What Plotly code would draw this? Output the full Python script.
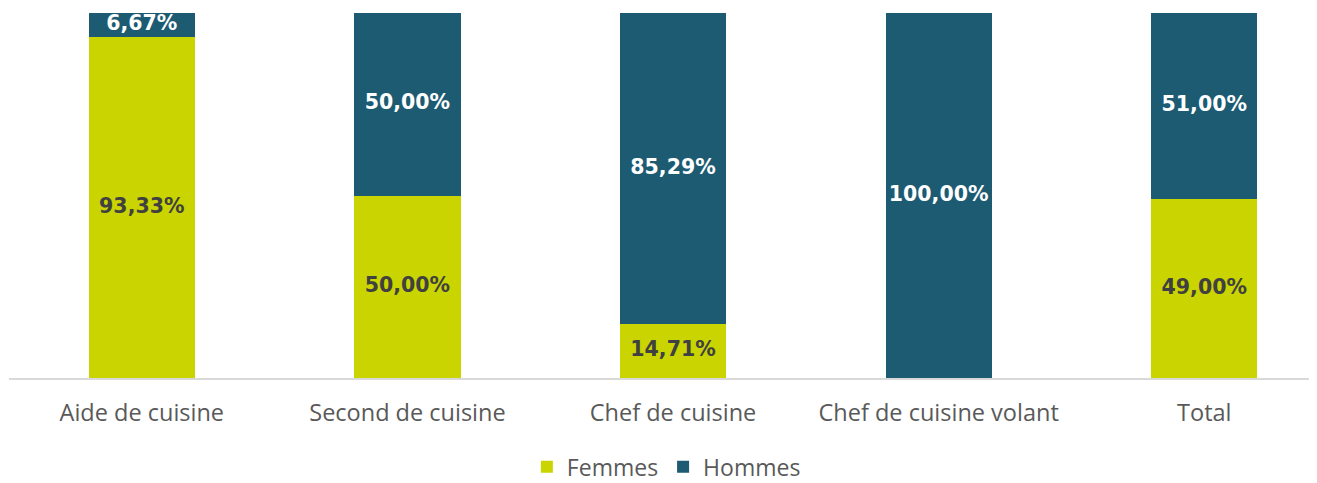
import plotly.graph_objects as go

categories = ["Aide de cuisine", "Second de cuisine", "Chef de cuisine", "Chef de cuisine volant", "Total"]
femmes = [93.33, 50.00, 14.71, 0.0, 49.00]
hommes = [6.67, 50.00, 85.29, 100.00, 51.00]

GREEN = "#C9D400"
BLUE = "#1D5B73"

def fmt(v):
    return ("%.2f%%" % v).replace(".", ",")

fig = go.Figure()
fig.add_trace(go.Bar(name="Femmes", x=categories, y=femmes, marker_color=GREEN,
                     marker_line_width=0, width=0.4, hoverinfo="skip"))
fig.add_trace(go.Bar(name="Hommes", x=categories, y=hommes, marker_color=BLUE,
                     marker_line_width=0, width=0.4, hoverinfo="skip"))

# labels (centre of each segment)
fig.add_trace(go.Scatter(
    x=[c for c, f in zip(categories, femmes) if f > 0],
    y=[f / 2 for f in femmes if f > 0],
    text=[fmt(f) for f in femmes if f > 0],
    mode="text", showlegend=False, hoverinfo="skip",
    textfont=dict(family="DejaVu Sans", size=20.5, color="#404040", weight="bold"),
    cliponaxis=False))
fig.add_trace(go.Scatter(
    x=[c for c, h in zip(categories, hommes) if h > 0],
    y=[f + h / 2 for f, h in zip(femmes, hommes) if h > 0],
    text=[fmt(h) for h in hommes if h > 0],
    mode="text", showlegend=False, hoverinfo="skip",
    textfont=dict(family="DejaVu Sans", size=20.5, color="#FFFFFF", weight="bold"),
    cliponaxis=False))

fig.update_layout(
    barmode="stack",
    width=1317, height=483,
    margin=dict(l=1, r=0, t=5, b=113, autoexpand=False),
    paper_bgcolor="white", plot_bgcolor="white",
    font=dict(family="Open Sans", size=23, color="#595959"),
    showlegend=True,
    legend=dict(orientation="h", x=0.4995, xanchor="center",
                yref="container", y=0.05, yanchor="middle",
                font=dict(family="Open Sans", size=23, color="#595959"),
                itemwidth=30, traceorder="normal"),
)
fig.update_xaxes(range=[-0.5, 4.4545], showgrid=False, showline=True, linecolor="#D9D9D9",
                 linewidth=2, ticks="outside", ticklen=13, tickcolor="rgba(0,0,0,0)",
                 automargin=False,
                 tickfont=dict(family="Open Sans", size=23.5, color="#595959"), fixedrange=True)
fig.update_yaxes(range=[0, 100], showgrid=False, showticklabels=False, zeroline=False,
                 showline=False, automargin=False, fixedrange=True)

fig.write_html("out.html")
